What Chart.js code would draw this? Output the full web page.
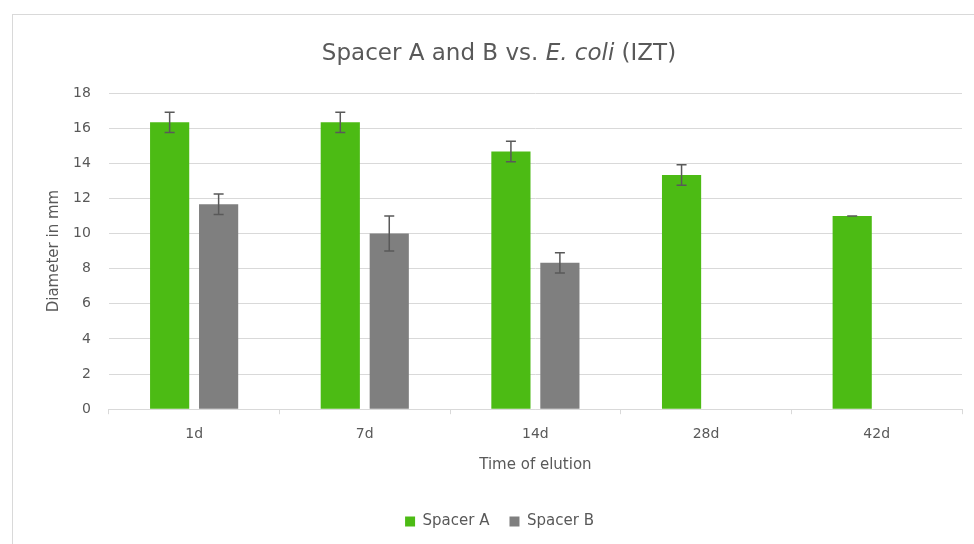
<!DOCTYPE html>
<html>
<head>
<meta charset="utf-8">
<script src="https://cdn.jsdelivr.net/npm/chart.js@4/dist/chart.umd.min.js"></script>
<style>
  html, body { margin: 0; padding: 0; background: #fff; }
  #wrap { position: relative; width: 974px; height: 544px; overflow: hidden; }
  #frame { position: absolute; left: 12px; top: 14px; width: 1000px; height: 600px; border: 1px solid #d9d9d9; box-sizing: border-box; }
  #title { position: absolute; left: 0; top: 36px; width: 998px; text-align: center; font-family: "DejaVu Sans", sans-serif; font-size: 23px; line-height: 32px; color: #595959; }
  canvas { position: absolute; left: 0; top: 0; }
</style>
</head>
<body>
<div id="wrap">
  <div id="frame"></div>
  <canvas id="c" width="974" height="544"></canvas>
  <div id="title">Spacer A and B vs. <i>E. coli</i> (IZT)</div>
</div>
<script>
const categories = ["1d", "7d", "14d", "28d", "42d"];
const spacerA = [16.33, 16.33, 14.67, 13.33, 11.0];
const spacerAErr = [0.58, 0.58, 0.58, 0.58, 0.0];
const spacerB = [11.67, 10.0, 8.33, 0, 0];
const spacerBErr = [0.58, 1.0, 0.58, 0, 0];
const yTicks = [0, 2, 4, 6, 8, 10, 12, 14, 16, 18];

const FONT = '"DejaVu Sans", sans-serif';
const errors = [spacerAErr, spacerBErr];

const errorBarPlugin = {
  id: 'errorBars',
  afterDatasetsDraw(chart) {
    const ctx = chart.ctx;
    const y = chart.scales.y;
    ctx.save();
    ctx.strokeStyle = '#595959';
    ctx.lineWidth = 1.5;
    chart.data.datasets.forEach((ds, di) => {
      const meta = chart.getDatasetMeta(di);
      meta.data.forEach((bar, i) => {
        const v = ds.data[i];
        const e = errors[di][i];
        if (!v) return;
        const x = bar.x;
        const top = y.getPixelForValue(v + e);
        const bot = y.getPixelForValue(v - e);
        ctx.beginPath();
        ctx.moveTo(x, top); ctx.lineTo(x, bot);
        ctx.moveTo(x - 5, top); ctx.lineTo(x + 5, top);
        ctx.moveTo(x - 5, bot); ctx.lineTo(x + 5, bot);
        ctx.stroke();
      });
    });
    ctx.restore();
  }
};

new Chart(document.getElementById('c'), {
  type: 'bar',
  data: {
    labels: categories,
    datasets: [
      { label: 'Spacer A', data: spacerA, backgroundColor: '#4cbb14', borderWidth: 0 },
      { label: 'Spacer B', data: spacerB, backgroundColor: '#7f7f7f', borderWidth: 0 }
    ]
  },
  options: {
    responsive: false,
    animation: false,
    devicePixelRatio: 1,
    categoryPercentage: 0.574,
    barPercentage: 0.8,
    layout: { padding: { top: 93, right: 12, left: 37, bottom: 5 } },
    plugins: {
      title: { display: false },
      tooltip: { enabled: false },
      legend: {
        position: 'bottom',
        labels: { font: { family: FONT, size: 15 }, color: '#595959', boxWidth: 10, boxHeight: 10, padding: 20 }
      }
    },
    scales: {
      x: {
        grid: { offset: true, drawOnChartArea: false, drawTicks: true, tickLength: 5, color: '#d9d9d9' },
        border: { color: '#d9d9d9' },
        ticks: { font: { family: FONT, size: 14 }, color: '#595959', padding: 12 },
        title: { display: true, text: 'Time of elution', font: { family: FONT, size: 15 }, color: '#595959', padding: { top: 1, bottom: 20 } }
      },
      y: {
        min: 0, max: 18,
        afterBuildTicks(axis) { axis.ticks = yTicks.map(v => ({ value: v })); },
        grid: { color: '#d9d9d9', drawTicks: false, lineWidth: 1 },
        border: { display: false },
        ticks: { font: { family: FONT, size: 14 }, color: '#595959', padding: 18 },
        title: { display: true, text: 'Diameter in mm', font: { family: FONT, size: 15 }, color: '#595959', padding: { top: 8, bottom: -8 } }
      }
    }
  },
  plugins: [errorBarPlugin]
});
</script>
</body>
</html>
